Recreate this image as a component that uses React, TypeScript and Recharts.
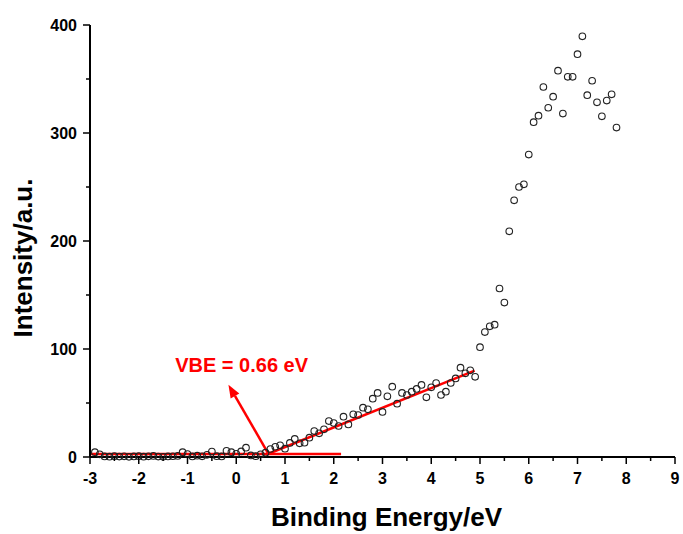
import { ComposedChart, Scatter, XAxis, YAxis, ReferenceLine, ReferenceDot } from 'recharts';

// binding energy (eV) and intensity (a.u.)
const energies = [
  -2.9, -2.8, -2.7, -2.6, -2.5, -2.4, -2.3, -2.2, -2.1, -2.0,
  -1.9, -1.8, -1.7, -1.6, -1.5, -1.4, -1.3, -1.2, -1.1, -1.0,
  -0.9, -0.8, -0.7, -0.6, -0.5, -0.4, -0.3, -0.2, -0.1, 0.0,
  0.1, 0.2, 0.3, 0.4, 0.5, 0.6, 0.7, 0.8, 0.9, 1.0,
  1.1, 1.2, 1.3, 1.4, 1.5, 1.6, 1.7, 1.8, 1.9, 2.0,
  2.1, 2.2, 2.3, 2.4, 2.5, 2.6, 2.7, 2.8, 2.9, 3.0,
  3.1, 3.2, 3.3, 3.4, 3.5, 3.6, 3.7, 3.8, 3.9, 4.0,
  4.1, 4.2, 4.3, 4.4, 4.5, 4.6, 4.7, 4.8, 4.9, 5.0,
  5.1, 5.2, 5.3, 5.4, 5.5, 5.6, 5.7, 5.8, 5.9, 6.0,
  6.1, 6.2, 6.3, 6.4, 6.5, 6.6, 6.7, 6.8, 6.9, 7.0,
  7.1, 7.2, 7.3, 7.4, 7.5, 7.6, 7.7, 7.8,
];
const intensities = [
  4.5, 2.5, 0.5, 0.3, 0.8, 0.4, 0.6, 0.2, 0.5, 0.8,
  0.3, 0.6, 1.0, 0.4, 0.2, 0.5, 0.7, 1.0, 4.5, 2.8,
  0.5, 1.2, 0.6, 2.0, 5.0, 0.8, 0.5, 5.8, 4.5, 3.0,
  5.2, 8.6, 1.5, 0.8, 2.5, 4.0, 7.4, 9.5, 10.8, 7.7,
  13, 16.7, 12.7, 13.2, 17.9, 24, 21.9, 25.6, 33.3, 31.5,
  28.7, 37.3, 30.2, 39.5, 38.9, 45.7, 44.1, 54, 59.3, 41.7,
  56.2, 65.1, 49.4, 59.3, 57.4, 60.5, 63, 66.7, 55.3, 64.5,
  68.5, 57.4, 60.5, 68.5, 72.8, 82.7, 77.5, 80.3, 74.2, 101.7,
  115.7, 121, 122.5, 156, 143, 209, 237.7, 250, 252.5, 280,
  310, 316, 342.6, 323.4, 333.6, 357.7, 318, 352, 352, 373,
  389.5, 335, 348.4, 328.4, 315.4, 330, 335.8, 305,
];

const xTicks = [-3, -2.5, -2, -1.5, -1, -0.5, 0, 0.5, 1, 1.5, 2, 2.5, 3, 3.5, 4, 4.5, 5, 5.5, 6, 6.5, 7, 7.5, 8, 8.5, 9];
const yTicks = [0, 50, 100, 150, 200, 250, 300, 350, 400];

// fitted lines for the valence band edge
const baseline = [{ x: -3, y: 2.8 }, { x: 2.15, y: 2.8 }];
const edgeFit = [{ x: 0.66, y: 3 }, { x: 4.89, y: 80 }];
const arrow = [{ x: 0.66, y: 3 }, { x: -0.16, y: 67 }];
const vbeLabel = { x: 0.11, y: 78.7, text: 'VBE = 0.66 eV' };

const data = energies.map((e, i) => ({ x: e, y: intensities[i] }));

const FONT = '"Liberation Sans", Arial, sans-serif';
const RED = '#ff0000';

const XTick = (props: any) => {
  const { x, y, payload } = props;
  const major = Number.isInteger(payload.value);
  return (
    <g>
      <line x1={x} y1={y} x2={x} y2={y + (major ? 7 : 4)} stroke="#000" strokeWidth={1.5} />
      {major && (
        <text x={x} y={y + 27} textAnchor="middle" fontSize={16} fontWeight="bold" fontFamily={FONT} fill="#000">
          {payload.value}
        </text>
      )}
    </g>
  );
};

const YTick = (props: any) => {
  const { x, y, payload } = props;
  const major = payload.value % 100 === 0;
  return (
    <g>
      <line x1={x} y1={y} x2={x - (major ? 7 : 4)} y2={y} stroke="#000" strokeWidth={1.5} />
      {major && (
        <text x={x - 13} y={y + 5.5} textAnchor="end" fontSize={16} fontWeight="bold" fontFamily={FONT} fill="#000">
          {payload.value}
        </text>
      )}
    </g>
  );
};

const OpenCircle = (props: any) => (
  <circle cx={props.cx} cy={props.cy} r={3.3} fill="none" stroke="#222" strokeWidth={1.1} />
);

const Arrow = (props: any) => {
  const { x1, y1, x2, y2 } = props;
  const dx = x2 - x1;
  const dy = y2 - y1;
  const len = Math.sqrt(dx * dx + dy * dy);
  const ux = dx / len;
  const uy = dy / len;
  const hl = 13;
  const hw = 5;
  const bx = x2 - ux * hl;
  const by = y2 - uy * hl;
  return (
    <g>
      <line x1={x1} y1={y1} x2={bx} y2={by} stroke={RED} strokeWidth={2.5} />
      <polygon
        points={`${x2},${y2} ${bx - uy * hw},${by + ux * hw} ${bx + uy * hw},${by - ux * hw}`}
        fill={RED}
      />
    </g>
  );
};

export default function App() {
  return (
    <div style={{ position: 'absolute', left: 0, top: 0, width: 683, height: 534, background: '#fff' }}>
      <ComposedChart width={683} height={534} margin={{ top: 25, right: 8, bottom: 47, left: 30 }}>
        <XAxis
          type="number"
          dataKey="x"
          domain={[-3, 9]}
          ticks={xTicks}
          interval={0}
          tickSize={0}
          tickMargin={0}
          tickLine={false}
          tick={<XTick />}
          height={30}
          axisLine={{ stroke: '#000', strokeWidth: 2 }}
          label={{
            content: (p: any) => (
              <text
                x={p.viewBox.x + p.viewBox.width / 2 + 4}
                y={p.viewBox.y + 69}
                textAnchor="middle"
                fontSize={26}
                fontWeight="bold"
                fontFamily={FONT}
                fill="#000"
              >
                Binding Energy/eV
              </text>
            ),
          }}
        />
        <YAxis
          type="number"
          dataKey="y"
          domain={[0, 400]}
          ticks={yTicks}
          interval={0}
          tickSize={0}
          tickMargin={0}
          tickLine={false}
          tick={<YTick />}
          width={60}
          axisLine={{ stroke: '#000', strokeWidth: 2 }}
          label={{
            content: () => (
              <text
                x={32}
                y={258}
                transform="rotate(-90 32 258)"
                textAnchor="middle"
                fontSize={26}
                fontWeight="bold"
                fontFamily={FONT}
                fill="#000"
              >
                Intensity/a.u.
              </text>
            ),
          }}
        />
        <Scatter data={data} dataKey="y" shape={<OpenCircle />} isAnimationActive={false} />
        <ReferenceLine segment={baseline} stroke={RED} strokeWidth={2.5} />
        <ReferenceLine segment={edgeFit} stroke={RED} strokeWidth={2.5} />
        <ReferenceLine segment={arrow} shape={<Arrow />} />
        <ReferenceDot
          x={vbeLabel.x}
          y={vbeLabel.y}
          shape={(p: any) => (
            <text x={p.cx} y={p.cy} textAnchor="middle" fontSize={20} fontWeight="bold" fontFamily={FONT} fill={RED}>
              {vbeLabel.text}
            </text>
          )}
        />
      </ComposedChart>
    </div>
  );
}
